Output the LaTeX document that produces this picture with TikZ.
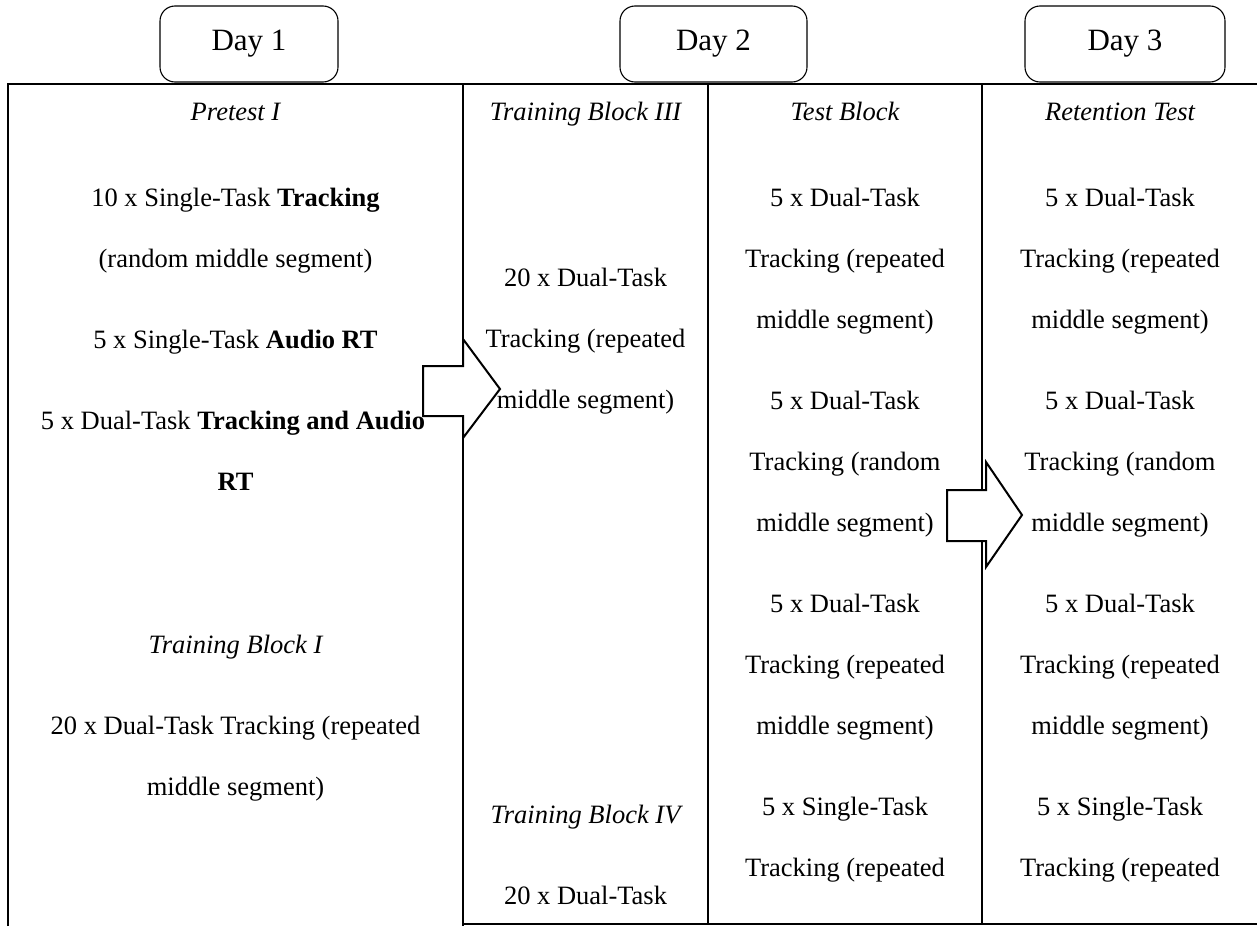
\documentclass[tikz,border=0pt]{standalone}
\usepackage{fontspec}
\setmainfont{Liberation Serif}
\begin{document}
\begin{tikzpicture}[x=1pt,y=-1pt,
  rule/.style={line width=2pt},
  daybox/.style={draw, line width=1.1pt, rounded corners=15pt, minimum height=76pt, inner sep=0pt, font=\fontsize{31}{36}\selectfont},
  blockarrow/.style={draw, fill=white, line width=2pt, line join=miter},
  txt/.style={anchor=base, inner sep=0pt, font=\fontsize{26.5}{30}\selectfont},
  itx/.style={txt, font=\fontsize{26.5}{30}\selectfont\itshape}]
\useasboundingbox (0,0) rectangle (1257,926);
% day boxes
\node[daybox, minimum width=178pt] (d1) at (249,44) {Day 1};
\node[daybox, minimum width=187pt] (d2) at (713.5,44) {Day 2};
\node[daybox, minimum width=200pt] (d3) at (1125,44) {Day 3};
% table rules
\draw[rule] (8,926) -- (8,84) -- (1257,84);
\draw[rule] (463,84) -- (463,926);
\draw[rule] (708,84) -- (708,924);
\draw[rule] (982,84) -- (982,924);
\draw[rule] (463,924) -- (1257,924);
% block arrows
\draw[blockarrow] (423,366) -- (463,366) -- (463,339) -- (500,389) -- (463,438) -- (463,416) -- (423,416) -- cycle;
\draw[blockarrow] (947,490) -- (986,490) -- (986,462) -- (1022,515) -- (986,567) -- (986,541) -- (947,541) -- cycle;
% column 1
\node[itx] (a0) at (235.5,120) {Pretest I};
\node[txt] (a1) at (235.5,206) {10 x Single-Task \textbf{Tracking}};
\node[txt] (a2) at (235.5,267) {(random middle segment)};
\node[txt] (a3) at (235.5,348) {5 x Single-Task \textbf{Audio RT}};
\node[txt] (a4) at (233,429) {5 x Dual-Task \textbf{Tracking and Audio}};
\node[txt] (a5) at (235.5,490) {\textbf{RT}};
\node[itx] (a6) at (235.5,653) {Training Block I};
\node[txt] (a7) at (235.5,734) {20 x Dual-Task Tracking (repeated};
\node[txt] (a8) at (235.5,795) {middle segment)};
% column 2
\node[itx] (b0) at (585.5,120) {Training Block III};
\node[txt] (b1) at (585.5,286) {20 x Dual-Task};
\node[txt] (b2) at (585.5,347) {Tracking (repeated};
\node[txt] (b3) at (585.5,408) {middle segment)};
\node[itx] (b4) at (585.5,823) {Training Block IV};
\node[txt] (b5) at (585.5,904) {20 x Dual-Task};
% column 3
\node[itx] (c0) at (845,120) {Test Block};
\node[txt] (c1) at (845,206) {5 x Dual-Task};
\node[txt] (c2) at (845,267) {Tracking (repeated};
\node[txt] (c3) at (845,328) {middle segment)};
\node[txt] (c4) at (845,409) {5 x Dual-Task};
\node[txt] (c5) at (845,470) {Tracking (random};
\node[txt] (c6) at (845,531) {middle segment)};
\node[txt] (c7) at (845,612) {5 x Dual-Task};
\node[txt] (c8) at (845,673) {Tracking (repeated};
\node[txt] (c9) at (845,734) {middle segment)};
\node[txt] (c10) at (845,815) {5 x Single-Task};
\node[txt] (c11) at (845,876) {Tracking (repeated};
% column 4
\node[itx] (e0) at (1120,120) {Retention Test};
\node[txt] (e1) at (1120,206) {5 x Dual-Task};
\node[txt] (e2) at (1120,267) {Tracking (repeated};
\node[txt] (e3) at (1120,328) {middle segment)};
\node[txt] (e4) at (1120,409) {5 x Dual-Task};
\node[txt] (e5) at (1120,470) {Tracking (random};
\node[txt] (e6) at (1120,531) {middle segment)};
\node[txt] (e7) at (1120,612) {5 x Dual-Task};
\node[txt] (e8) at (1120,673) {Tracking (repeated};
\node[txt] (e9) at (1120,734) {middle segment)};
\node[txt] (e10) at (1120,815) {5 x Single-Task};
\node[txt] (e11) at (1120,876) {Tracking (repeated};
\end{tikzpicture}
\end{document}
